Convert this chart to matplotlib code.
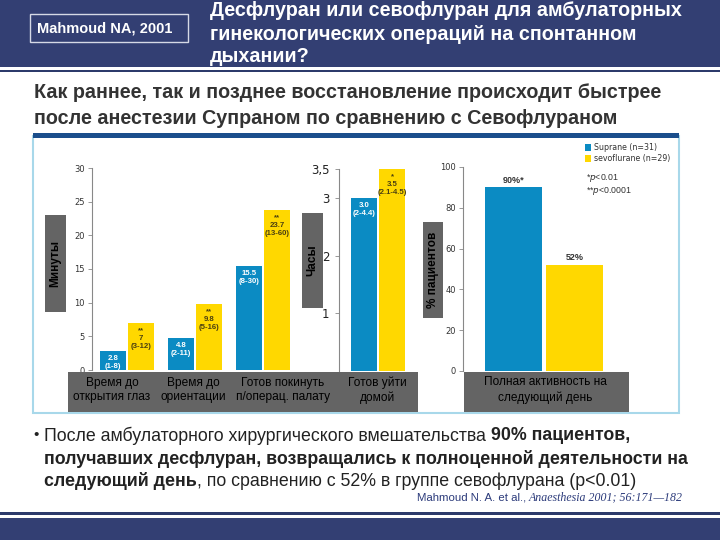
import matplotlib
matplotlib.use('Agg')
import matplotlib.pyplot as plt
from matplotlib.patches import Rectangle

# ---------------- data ----------------
cats_min = ["Время до\nоткрытия глаз", "Время до\nориентации", "Готов покинуть\nп/операц. палату"]
suprane_min = [2.8, 4.8, 15.5]
sevo_min = [7, 9.8, 23.7]
suprane_min_rng = ["(1-8)", "(2-11)", "(8-30)"]
sevo_min_rng = ["(3-12)", "(5-16)", "(13-60)"]
sevo_min_sig = ["**", "**", "**"]

cats_hr = ["Готов уйти\nдомой"]
suprane_hr = [3.0]
sevo_hr = [3.5]
suprane_hr_rng = ["(2-4.4)"]
sevo_hr_rng = ["(2.1-4.5)"]
sevo_hr_sig = ["*"]
hr_ticks = [1, 2, 3, 3.5]
hr_ticklabels = ["1", "2", "3", "3,5"]

cats_pct = ["Полная активность на\nследующий день"]
suprane_pct = [90]
sevo_pct = [52]
pct_labels_sup = ["90%*"]
pct_labels_sevo = ["52%"]

legend_labels = ["Suprane (n=31)", "sevoflurane (n=29)"]

# layout (pixel centres of category captions in the grey strips)
cap_x_min = [112, 193, 283]
cap_x_hr = [377]
cap_x_pct = [545]

BLUE = '#0b8bc3'
YELLOW = '#ffd800'
GRAY = '#646464'
NAVY = '#333f73'
NARROW = ['Liberation Sans Narrow', 'Liberation Sans', 'DejaVu Sans']
SANS = ['Liberation Sans', 'DejaVu Sans']

W, H = 720, 540
fig = plt.figure(figsize=(7.2, 5.4), dpi=100)
bg = fig.add_axes([0, 0, 1, 1], zorder=-10)
bg.set_xlim(0, W); bg.set_ylim(H, 0); bg.axis('off')


def px_axes(x0, y0, x1, y1):
    return fig.add_axes([x0 / W, 1 - y1 / H, (x1 - x0) / W, (y1 - y0) / H])


# ---------------- header / footer ----------------
bg.add_patch(Rectangle((0, 0), W, 67, color=NAVY, lw=0))
bg.add_patch(Rectangle((0, 69.5), W, 2.5, color='#2c3a6b', lw=0))
bg.add_patch(Rectangle((30, 14), 158, 28, fill=False, ec='#d6d9e6', lw=1))
bg.text(37, 28.5, "Mahmoud NA, 2001", color='white', fontsize=10.5, fontweight='bold',
        family=NARROW, va='center', ha='left')
for yy, line in zip([11, 34, 57], ["Десфлуран или севофлуран для амбулаторных",
                                    "гинекологических операций на спонтанном",
                                    "дыхании?"]):
    bg.text(210, yy, line, color='white', fontsize=14.2, fontweight='bold', family=NARROW,
            va='center', ha='left')

bg.text(34, 92, "Как раннее, так и позднее восстановление происходит быстрее",
        color='#333333', fontsize=14.2, fontweight='bold', family=SANS, va='center')
bg.text(34, 118, "после анестезии Супраном по сравнению с Севофлураном",
        color='#333333', fontsize=14.2, fontweight='bold', family=SANS, va='center')

bg.add_patch(Rectangle((0, 512), W, 2.5, color='#2c3a6b', lw=0))
bg.add_patch(Rectangle((0, 518), W, 22, color=NAVY, lw=0))

# chart panel frame
bg.add_patch(Rectangle((33, 136), 646, 277, fc='white', ec='#a8d8ea', lw=1.5))
bg.add_patch(Rectangle((33, 133), 646, 4.5, color='#1b4e8c', lw=0))

# y label boxes
for (x0, y0, x1, y1, lab) in [(45, 215, 66, 312, "Минуты"),
                              (302, 213, 323, 308, "Часы"),
                              (423, 222, 443, 318, "% пациентов")]:
    bg.add_patch(Rectangle((x0, y0), x1 - x0, y1 - y0, color=GRAY, lw=0))
    bg.text((x0 + x1) / 2, (y0 + y1) / 2, lab, rotation=90, ha='center', va='center',
            fontsize=8.5, fontweight='bold', color='black', family=SANS)

# category strips (drawn above the axes)
for (x0, x1) in [(68, 418), (464, 629)]:
    fig.patches.append(Rectangle((x0 / W, 1 - 412 / H), (x1 - x0) / W, 40 / H,
                                 transform=fig.transFigure, color=GRAY, lw=0, zorder=5))


def captions(xs, cats):
    for x, c in zip(xs, cats):
        fig.text(x / W, 1 - 390 / H, c, ha='center', va='center', fontsize=8.6,
                 color='black', family=SANS, linespacing=1.3, zorder=6)


BW = 0.38
OFF = 0.206


def style(ax, ticks, ticklabels, lsize=6):
    for s in ['top', 'right', 'bottom']:
        ax.spines[s].set_visible(False)
    ax.spines['left'].set_color('#888888')
    ax.spines['left'].set_linewidth(0.8)
    ax.tick_params(axis='y', length=3, width=0.6, color='#888888', labelsize=lsize,
                   labelcolor='#333333', pad=2)
    ax.set_xticks([])
    ax.set_yticks(ticks)
    ax.set_yticklabels(ticklabels)
    ax.patch.set_alpha(0)


def bar_text(ax, x, top, lines, color):
    ax.annotate("\n".join(lines), (x, top), xytext=(0, -3), textcoords='offset points',
                ha='center', va='top', fontsize=5.6, fontweight='bold', color=color,
                family=NARROW, linespacing=1.15)


# ---------------- panel 1: minutes ----------------
ax1 = px_axes(92, 168, 300, 370)
x1 = list(range(len(cats_min)))
ax1.bar([i - OFF for i in x1], suprane_min, BW, color=BLUE)
ax1.bar([i + OFF for i in x1], sevo_min, BW, color=YELLOW)
ax1.set_ylim(0, 30)
ax1.set_xlim(-0.515, 2.544)
style(ax1, [0, 5, 10, 15, 20, 25, 30], ["0", "5", "10", "15", "20", "25", "30"])
for i in x1:
    bar_text(ax1, i - OFF, suprane_min[i], [f"{suprane_min[i]}", suprane_min_rng[i]], 'white')
    bar_text(ax1, i + OFF, sevo_min[i], [sevo_min_sig[i], f"{sevo_min[i]:g}", sevo_min_rng[i]], '#4a3f10')
captions(cap_x_min, cats_min)

# ---------------- panel 2: hours ----------------
ax2 = px_axes(339, 169, 410, 371)
x2 = list(range(len(cats_hr)))
ax2.bar([i - OFF for i in x2], suprane_hr, BW, color=BLUE)
ax2.bar([i + OFF for i in x2], sevo_hr, BW, color=YELLOW)
ax2.set_ylim(0, 3.5)
ax2.set_xlim(-0.574, 0.47)
style(ax2, hr_ticks, hr_ticklabels, lsize=8.5)
ax2.tick_params(axis='y', pad=4, labelcolor='#222222')
for i in x2:
    bar_text(ax2, i - OFF, suprane_hr[i], [f"{suprane_hr[i]:.1f}", suprane_hr_rng[i]], 'white')
    bar_text(ax2, i + OFF, sevo_hr[i], [sevo_hr_sig[i], f"{sevo_hr[i]}", sevo_hr_rng[i]], '#4a3f10')
captions(cap_x_hr, cats_hr)

# ---------------- panel 3: percent ----------------
ax3 = px_axes(463, 167, 640, 371)
x3 = list(range(len(cats_pct)))
b1 = ax3.bar([i - OFF for i in x3], suprane_pct, BW, color=BLUE)
b2 = ax3.bar([i + OFF for i in x3], sevo_pct, BW, color=YELLOW)
ax3.set_ylim(0, 100)
ax3.set_xlim(-0.54, 0.64)
style(ax3, [0, 20, 40, 60, 80, 100], ["0", "20", "40", "60", "80", "100"])
for i in x3:
    ax3.annotate(pct_labels_sup[i], (i - OFF, suprane_pct[i]), xytext=(0, 2),
                 textcoords='offset points', ha='center', va='bottom', fontsize=6.5,
                 fontweight='bold', color='#333333', family=SANS)
    ax3.annotate(pct_labels_sevo[i], (i + OFF, sevo_pct[i]), xytext=(0, 2),
                 textcoords='offset points', ha='center', va='bottom', fontsize=6.5,
                 fontweight='bold', color='#333333', family=SANS)
captions(cap_x_pct, cats_pct)

ax3.legend([b1, b2], legend_labels, loc='upper left', bbox_to_anchor=(585 / W, 1 - 143 / H),
           bbox_transform=fig.transFigure, frameon=False, fontsize=5.7, handlelength=0.7,
           handleheight=0.9, handletextpad=0.4, labelspacing=0.3, borderpad=0, borderaxespad=0,
           labelcolor='#333333')
bg.text(586, 178, r"*$p$<0.01", fontsize=6.3, color='#333333', va='center', family=SANS)
bg.text(586, 191, r"**$p$<0.0001", fontsize=6.3, color='#333333', va='center', family=SANS)

# ---------------- bottom text ----------------
renderer = fig.canvas.get_renderer()


def rich_line(x, y, pieces, size, color='#222222', family=SANS):
    for s, w in pieces:
        t = bg.text(x, y, s, fontsize=size, fontweight=w, va='center', ha='left',
                    color=color, family=family)
        bb = t.get_window_extent(renderer=renderer)
        x += bb.width


bg.text(36, 435, "•", fontsize=11, color='#222222', va='center', ha='center', family=SANS)
BS = 12.8
rich_line(44, 436, [("После амбулаторного хирургического вмешательства ", 'normal'),
                    ("90% пациентов,", 'bold')], BS)
rich_line(44, 459, [("получавших десфлуран, возвращались к полноценной деятельности на", 'bold')], BS)
rich_line(44, 481, [("следующий день", 'bold'),
                    (", по сравнению с 52% в группе севофлурана (p<0.01)", 'normal')], BS)

t_it = bg.text(683, 497, "Anaesthesia 2001; 56:171—182", fontsize=8.6, style='italic',
               family=['Liberation Serif', 'DejaVu Serif'], color='#2b3a7a', ha='right', va='center')
bb = t_it.get_window_extent(renderer=renderer)
bg.text(bb.x0, 497, "Mahmoud N. A. et al., ", fontsize=8.2, family=NARROW, color='#2b3a7a',
        ha='right', va='center')

fig.savefig('out.png', dpi=100)
